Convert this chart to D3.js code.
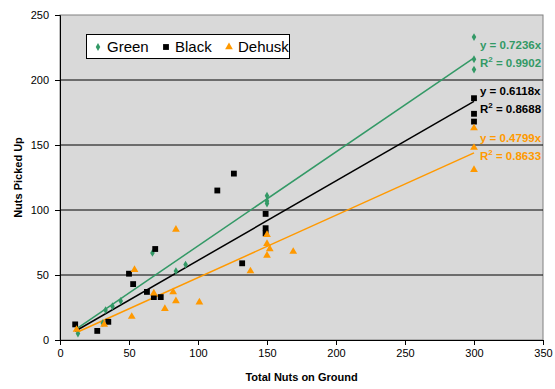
<!DOCTYPE html>
<html lang="en">
<head>
<meta charset="UTF-8">
<title>Nuts Picked Up vs Total Nuts on Ground</title>
<style>
    body { margin: 0; background: #fff; font-family: "Liberation Sans", Arial, sans-serif; }
    text { font-family: "Liberation Sans", Arial, sans-serif; }
</style>
</head>
<body>
<script src="https://d3js.org/d3.v7.min.js"></script>
<script>
// Data
const greenX = [13, 31, 33, 38, 44, 67, 84, 91, 150, 150, 150, 300, 300, 300];
const greenY = [5, 13, 23, 26, 30, 67, 53, 58, 111, 107, 105, 233, 216, 208];
const blackX = [11, 27, 35, 50, 53, 63, 68, 73, 69, 114, 126, 132, 149, 149, 149, 300, 300, 300];
const blackY = [12, 7, 14, 51, 43, 37, 33, 33, 70, 115, 128, 59, 97, 86, 82, 186, 174, 168];
const dehuskX = [12, 32, 52, 54, 68, 76, 82, 84, 84, 101, 138, 150, 150, 152, 150, 169, 300, 300, 300];
const dehuskY = [8, 12, 18, 54, 36, 24, 37, 30, 85, 29, 53, 81, 74, 70, 65, 68, 163, 148, 131];

const seriesNames = ["Green", "Black", "Dehusk"];
const slopes = [0.7236, 0.6118, 0.4799];
const r2 = ["0.9902", "0.8688", "0.8633"];
const xTicks = [0, 50, 100, 150, 200, 250, 300, 350];
const yTicks = [0, 50, 100, 150, 200, 250];

const colors = { Green: "#339966", Black: "#000000", Dehusk: "#ff9900" };

const width = 555, height = 389;
const svg = d3.select("body").append("svg")
    .attr("width", width)
    .attr("height", height);

const x = d3.scaleLinear().domain([0, 350]).range([60, 543]);
const y = d3.scaleLinear().domain([0, 250]).range([340, 15]);

// plot area
svg.append("rect")
    .attr("x", x(0)).attr("y", y(250))
    .attr("width", x(350) - x(0)).attr("height", y(0) - y(250))
    .attr("fill", "#d9d9d9")
    .attr("stroke", "#808080");

// gridlines
svg.append("g").selectAll("line")
    .data(yTicks.filter(d => d > 0 && d < 250))
    .enter().append("line")
    .attr("x1", x(0)).attr("x2", x(350))
    .attr("y1", d => y(d)).attr("y2", d => y(d))
    .attr("stroke", "#000")
    .attr("stroke-width", 1);

// axes
const xAxis = svg.append("g")
    .attr("transform", `translate(0,${y(0)})`)
    .call(d3.axisBottom(x).tickValues(xTicks).tickSize(5).tickPadding(4));
const yAxis = svg.append("g")
    .attr("transform", `translate(${x(0)},0)`)
    .call(d3.axisLeft(y).tickValues(yTicks).tickSize(5).tickPadding(6));
[xAxis, yAxis].forEach(a => {
    a.select(".domain").attr("stroke", "#000");
    a.selectAll(".tick line").attr("stroke", "#000");
    a.selectAll("text").attr("font-size", 11).attr("fill", "#000")
        .attr("font-family", "Liberation Sans, Arial, sans-serif");
});

// axis titles
svg.append("text")
    .attr("x", (x(0) + x(350)) / 2).attr("y", 381)
    .attr("text-anchor", "middle")
    .attr("font-size", 11).attr("font-weight", "bold")
    .text("Total Nuts on Ground");
svg.append("text")
    .attr("transform", `translate(22,${(y(0) + y(250)) / 2}) rotate(-90)`)
    .attr("text-anchor", "middle")
    .attr("font-size", 11).attr("font-weight", "bold")
    .text("Nuts Picked Up");

const series = [
    { name: "Green", xs: greenX, ys: greenY, shape: d3.symbolDiamond, size: 18 },
    { name: "Black", xs: blackX, ys: blackY, shape: d3.symbolSquare, size: 34 },
    { name: "Dehusk", xs: dehuskX, ys: dehuskY, shape: d3.symbolTriangle, size: 26 }
];

// trendlines
series.forEach((s, i) => {
    const x0 = d3.min(s.xs), x1 = d3.max(s.xs);
    svg.append("line")
        .attr("x1", x(x0)).attr("y1", y(slopes[i] * x0))
        .attr("x2", x(x1)).attr("y2", y(slopes[i] * x1))
        .attr("stroke", colors[s.name])
        .attr("stroke-width", 1.5);
});

// points
series.forEach(s => {
    const pts = s.xs.map((v, j) => [v, s.ys[j]]);
    svg.append("g").selectAll("path")
        .data(pts)
        .enter().append("path")
        .attr("d", d3.symbol().type(s.shape).size(s.size))
        .attr("transform", d => `translate(${x(d[0])},${y(d[1])})`)
        .attr("fill", colors[s.name]);
});

// equation labels
const eqY = [45, 91, 138];
series.forEach((s, i) => {
    const g = svg.append("g")
        .attr("fill", colors[s.name])
        .attr("font-size", 11.5)
        .attr("font-weight", "bold");
    g.append("text")
        .attr("x", 480).attr("y", eqY[i] + 4)
        .text(`y = ${slopes[i]}x`);
    const t = g.append("text")
        .attr("x", 480).attr("y", eqY[i] + 22);
    t.append("tspan").text("R");
    t.append("tspan").attr("font-size", 8).attr("dy", -5).text("2");
    t.append("tspan").attr("dy", 5).text(` = ${r2[i]}`);
});

// legend
const legend = svg.append("g");
legend.append("rect")
    .attr("x", 86.5).attr("y", 34.5)
    .attr("width", 203).attr("height", 24)
    .attr("fill", "#fff").attr("stroke", "#000");
const legX = [98, 166, 229];
series.forEach((s, i) => {
    legend.append("path")
        .attr("d", d3.symbol().type(s.shape).size(s.size))
        .attr("transform", `translate(${legX[i]},47)`)
        .attr("fill", colors[s.name]);
    legend.append("text")
        .attr("x", legX[i] + 9).attr("y", 52)
        .attr("font-size", 15)
        .text(seriesNames[i]);
});
</script>
</body>
</html>
